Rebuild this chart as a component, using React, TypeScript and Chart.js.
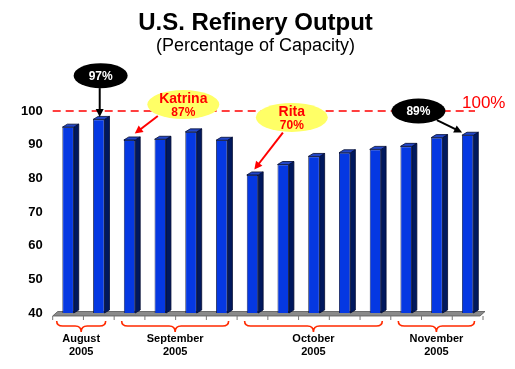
import React, { useEffect, useRef } from "react";
import { Chart, registerables } from "chart.js";

Chart.register(...registerables);

const categories = [
  "Aug-1", "Aug-2",
  "Sep-1", "Sep-2", "Sep-3", "Sep-4",
  "Oct-1", "Oct-2", "Oct-3", "Oct-4", "Oct-5",
  "Nov-1", "Nov-2", "Nov-3",
];
const outputValues = [95.2, 97.5, 91.4, 91.6, 93.8, 91.3, 81.0, 84.1, 86.5, 87.6, 88.6, 89.5, 92.1, 92.8];
const yTicks = [40, 50, 60, 70, 80, 90, 100];
const capacityLine = 100;
const capacityLabel = "100%";
const monthGroups = [
  { from: 0, to: 1, lines: ["August", "2005"] },
  { from: 2, to: 5, lines: ["September", "2005"] },
  { from: 6, to: 10, lines: ["October", "2005"] },
  { from: 11, to: 13, lines: ["November", "2005"] },
];
const titleText = "U.S. Refinery Output";
const subtitleText = "(Percentage of Capacity)";

// callouts placed in data coordinates (category index, value)
const callouts = [
  { lines: ["97%"], idx: 1.06, value: 110.5, kind: "dark", arrowFrom: [1.03, 106.8], arrowTo: [1.03, 98.2] },
  { lines: ["Katrina", "87%"], idx: 3.75, value: 101.9, kind: "light", arrowFrom: [2.92, 98.5], arrowTo: [2.17, 93.3] },
  { lines: ["Rita", "70%"], idx: 7.28, value: 98.1, kind: "light", arrowFrom: [6.99, 93.6], arrowTo: [6.06, 82.6] },
  { lines: ["89%"], idx: 11.4, value: 100, kind: "dark", arrowFrom: [12.0, 97.3], arrowTo: [12.82, 93.6] },
];

const FONT = "'Liberation Sans', Arial, sans-serif";

function drawArrow(ctx: CanvasRenderingContext2D, x1: number, y1: number, x2: number, y2: number, color: string) {
  const ang = Math.atan2(y2 - y1, x2 - x1);
  const hl = 8, hw = 4;
  ctx.save();
  ctx.strokeStyle = color;
  ctx.fillStyle = color;
  ctx.lineWidth = 2;
  ctx.beginPath();
  ctx.moveTo(x1, y1);
  ctx.lineTo(x2 - Math.cos(ang) * hl * 0.8, y2 - Math.sin(ang) * hl * 0.8);
  ctx.stroke();
  ctx.beginPath();
  ctx.moveTo(x2, y2);
  ctx.lineTo(x2 - Math.cos(ang) * hl - Math.sin(ang) * hw, y2 - Math.sin(ang) * hl + Math.cos(ang) * hw);
  ctx.lineTo(x2 - Math.cos(ang) * hl + Math.sin(ang) * hw, y2 - Math.sin(ang) * hl - Math.cos(ang) * hw);
  ctx.closePath();
  ctx.fill();
  ctx.restore();
}

const decorPlugin = {
  id: "decor",
  beforeDatasetsDraw(chart: any) {
    const { ctx, chartArea, scales } = chart;
    const xs = scales.x;
    const cw = xs.getPixelForValue(1) - xs.getPixelForValue(0);
    const yb = chartArea.bottom;
    ctx.save();
    // floor
    ctx.beginPath();
    ctx.moveTo(chartArea.left, yb + 3);
    ctx.lineTo(chartArea.right - 3, yb + 3);
    ctx.lineTo(chartArea.right + 2, yb - 1.5);
    ctx.lineTo(chartArea.left + 5, yb - 1.5);
    ctx.closePath();
    ctx.fillStyle = "#8a8a8a";
    ctx.fill();
    ctx.strokeStyle = "#555";
    ctx.lineWidth = 0.8;
    ctx.stroke();
    // tick marks at category boundaries
    ctx.strokeStyle = "#777";
    ctx.lineWidth = 1;
    for (let i = 0; i <= categories.length; i++) {
      const x = xs.getPixelForValue(0) - cw / 2 + i * cw;
      ctx.beginPath();
      ctx.moveTo(x, yb + 3);
      ctx.lineTo(x, yb + 7);
      ctx.stroke();
    }
    ctx.restore();
  },
  afterDatasetsDraw(chart: any) {
    const { ctx, chartArea } = chart;
    const meta = chart.getDatasetMeta(0);
    const dx = 5, dy = 3;
    ctx.save();
    ctx.lineWidth = 0.8;
    ctx.strokeStyle = "#000a30";
    meta.data.forEach((bar: any) => {
      const p = bar.getProps(["x", "y", "base", "width"], true);
      const l = p.x - p.width / 2, r = p.x + p.width / 2, t = p.y;
      const b = Math.min(p.base, chartArea.bottom);
      ctx.beginPath();
      ctx.moveTo(r, t);
      ctx.lineTo(r + dx, t - dy);
      ctx.lineTo(r + dx, b - dy);
      ctx.lineTo(r, b);
      ctx.closePath();
      ctx.fillStyle = "#00185e";
      ctx.fill();
      ctx.stroke();
      ctx.beginPath();
      ctx.moveTo(l, t);
      ctx.lineTo(l + dx, t - dy);
      ctx.lineTo(r + dx, t - dy);
      ctx.lineTo(r, t);
      ctx.closePath();
      ctx.fillStyle = "#2347c8";
      ctx.fill();
      ctx.stroke();
    });
    ctx.restore();
  },
  afterDraw(chart: any) {
    const { ctx, chartArea, scales, width } = chart;
    const xs = scales.x, ys = scales.y;
    const cw = xs.getPixelForValue(1) - xs.getPixelForValue(0);
    const px = (idx: number) => xs.getPixelForValue(0) + idx * cw;
    ctx.save();
    // titles
    ctx.fillStyle = "#000";
    ctx.textAlign = "center";
    ctx.textBaseline = "alphabetic";
    ctx.font = `bold 24px ${FONT}`;
    ctx.fillText(titleText, width / 2 - 2, 30);
    ctx.font = `18px ${FONT}`;
    ctx.fillText(subtitleText, width / 2 - 2, 51);

    // capacity dashed line
    const yc = ys.getPixelForValue(capacityLine);
    ctx.strokeStyle = "#ff0000";
    ctx.lineWidth = 1.5;
    ctx.setLineDash([8, 5]);
    ctx.beginPath();
    ctx.moveTo(chartArea.left, yc);
    ctx.lineTo(chartArea.right - 8, yc);
    ctx.stroke();
    ctx.setLineDash([]);
    ctx.fillStyle = "#ff0000";
    ctx.font = `17px ${FONT}`;
    ctx.textAlign = "left";
    ctx.fillText(capacityLabel, chartArea.right - 21, yc - 3);

    // callouts
    callouts.forEach((c) => {
      const cx = px(c.idx), cy = ys.getPixelForValue(c.value);
      const dark = c.kind === "dark";
      const color = dark ? "#000000" : "#ff0000";
      drawArrow(ctx, px(c.arrowFrom[0]), ys.getPixelForValue(c.arrowFrom[1]), px(c.arrowTo[0]), ys.getPixelForValue(c.arrowTo[1]), color);
      ctx.beginPath();
      if (dark) ctx.ellipse(cx, cy, 27, 12.5, 0, 0, Math.PI * 2);
      else ctx.ellipse(cx, cy, 36, 14.5, 0, 0, Math.PI * 2);
      ctx.fillStyle = dark ? "#000000" : "#ffff66";
      ctx.fill();
      ctx.textAlign = "center";
      ctx.textBaseline = "middle";
      if (dark) {
        ctx.fillStyle = "#ffffff";
        ctx.font = `bold 12px ${FONT}`;
        ctx.fillText(c.lines[0], cx, cy + 1);
      } else {
        ctx.fillStyle = "#ff0000";
        ctx.font = `bold 14px ${FONT}`;
        ctx.fillText(c.lines[0], cx, cy - 5);
        ctx.font = `bold 12px ${FONT}`;
        ctx.fillText(c.lines[1], cx, cy + 8);
      }
    });

    // month braces and labels
    const yTop = chartArea.bottom + 8;
    monthGroups.forEach((g, gi) => {
      const x0 = px(g.from) - cw / 2 + (gi === 0 ? 4 : 7.5);
      const x1 = px(g.to) + cw / 2 - 8.5;
      const xm = (x0 + x1) / 2;
      const ym = yTop + 5, yt = yTop + 11;
      ctx.strokeStyle = "#ff2a00";
      ctx.lineWidth = 1.6;
      ctx.beginPath();
      ctx.moveTo(x0, yTop);
      ctx.quadraticCurveTo(x0, ym, x0 + 6, ym);
      ctx.lineTo(xm - 6, ym);
      ctx.quadraticCurveTo(xm, ym, xm, yt);
      ctx.quadraticCurveTo(xm, ym, xm + 6, ym);
      ctx.lineTo(x1 - 6, ym);
      ctx.quadraticCurveTo(x1, ym, x1, yTop);
      ctx.stroke();
      ctx.fillStyle = "#000";
      ctx.font = `bold 11px ${FONT}`;
      ctx.textAlign = "center";
      ctx.textBaseline = "middle";
      ctx.fillText(g.lines[0], xm, chartArea.bottom + 26);
      ctx.fillText(g.lines[1], xm, chartArea.bottom + 39);
    });
    ctx.restore();
  },
};

export default function App() {
  const ref = useRef<HTMLCanvasElement | null>(null);
  useEffect(() => {
    document.body.style.margin = "0";
    const canvas = ref.current;
    if (!canvas) return;
    const chart = new Chart(canvas, {
      type: "bar",
      data: {
        labels: categories,
        datasets: [
          {
            data: outputValues,
            backgroundColor: "#0538e2",
            borderColor: "#000a30",
            borderWidth: 0.8,
            barPercentage: 0.37,
            categoryPercentage: 1,
          },
        ],
      },
      options: {
        animation: false,
        responsive: true,
        maintainAspectRatio: false,
        layout: { padding: { top: 111, left: 11, right: 32, bottom: 56 } },
        plugins: { legend: { display: false }, tooltip: { enabled: false }, title: { display: false } },
        scales: {
          x: { display: false, offset: true },
          y: {
            min: 40,
            max: 100,
            afterBuildTicks: (axis: any) => {
              axis.ticks = yTicks.map((v) => ({ value: v }));
            },
            ticks: { color: "#000", font: { family: FONT, size: 13, weight: "bold" }, padding: 10 },
            grid: { display: false, drawTicks: false },
            border: { display: false },
          },
        },
      },
      plugins: [decorPlugin],
    });
    return () => chart.destroy();
  }, []);
  return (
    <div style={{ width: 515, height: 369, position: "relative", background: "#fff" }}>
      <canvas ref={ref} />
    </div>
  );
}
